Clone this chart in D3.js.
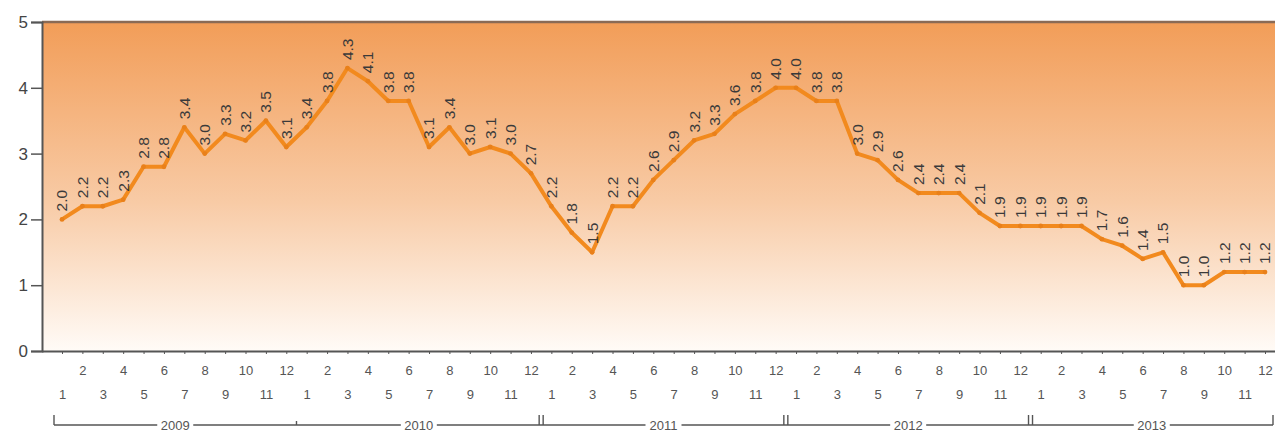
<!DOCTYPE html>
<html><head><meta charset="utf-8">
<script src="https://cdn.jsdelivr.net/npm/d3@7"></script>
<style>body{margin:0;background:#fff;} svg{display:block;font-family:"Liberation Sans",Arial,sans-serif;}</style>
</head><body>
<svg id="c" width="1275" height="432"></svg>
<script>
const years = [2009, 2010, 2011, 2012, 2013];
const months = [1,2,3,4,5,6,7,8,9,10,11,12];
const values = [
  2.0,2.2,2.2,2.3,2.8,2.8,3.4,3.0,3.3,3.2,3.5,3.1,
  3.4,3.8,4.3,4.1,3.8,3.8,3.1,3.4,3.0,3.1,3.0,2.7,
  2.2,1.8,1.5,2.2,2.2,2.6,2.9,3.2,3.3,3.6,3.8,4.0,
  4.0,3.8,3.8,3.0,2.9,2.6,2.4,2.4,2.4,2.1,1.9,1.9,
  1.9,1.9,1.9,1.7,1.6,1.4,1.5,1.0,1.0,1.2,1.2,1.2
];
const yTicks = [0,1,2,3,4,5];

const data = [];
years.forEach((yr, yi) => months.forEach((m, mi) => data.push({year: yr, month: m, i: yi*12+mi, v: values[yi*12+mi]})));

const svg = d3.select("#c");
const pL = 42, pR = 1275, pT = 22, pB = 351;
const x = d3.scaleLinear().domain([0, data.length-1]).range([62, 1265]);
const y = d3.scaleLinear().domain([0, 5]).range([pB, pT]);

const defs = svg.append("defs");
const g = defs.append("linearGradient").attr("id","bg").attr("x1",0).attr("y1",0).attr("x2",0).attr("y2",1);
g.append("stop").attr("offset","0%").attr("stop-color","#F29D58");
g.append("stop").attr("offset","55%").attr("stop-color","#F8CBA6");
g.append("stop").attr("offset","100%").attr("stop-color","#FFFBF7");

svg.append("rect").attr("x", pL).attr("y", pT).attr("width", pR-pL).attr("height", pB-pT).attr("fill","url(#bg)");
svg.append("line").attr("x1", pL).attr("x2", pR).attr("y1", pT).attr("y2", pT).attr("stroke","#8a6a55").attr("stroke-width",2.5);

// y axis
const ya = svg.append("g").attr("transform",`translate(${pL},0)`)
  .call(d3.axisLeft(y).tickValues(yTicks).tickSize(11).tickFormat(d3.format("d")));
ya.select(".domain").attr("stroke","#555").attr("stroke-width",2);
ya.selectAll(".tick line").attr("stroke","#555").attr("stroke-width",1.5);
ya.selectAll(".tick text").attr("font-size",17).attr("fill","#444").attr("x",-14).attr("font-family","Liberation Sans, Arial, sans-serif");

// x axis
const xa = svg.append("g").attr("transform",`translate(0,${pB})`)
  .call(d3.axisBottom(x).tickValues(data.map(d=>d.i)).tickSize(3).tickSizeOuter(0).tickFormat(i => data[i].month));
xa.select(".domain").attr("d", `M${pL},0.5H${pR}`).attr("stroke","#555").attr("stroke-width",2);
xa.selectAll(".tick line").attr("stroke","#555");
xa.selectAll(".tick text").attr("font-size",13).attr("fill","#555").attr("font-family","Liberation Sans, Arial, sans-serif")
  .attr("y", i => data[i].month % 2 === 0 ? 15 : 39);

// year brackets
const bY = 425;
const bounds = years.map((yr, yi) => {
  const a = yi === 0 ? x(0) - 8 : (x(yi*12-1) + x(yi*12)) / 2;
  const b = yi === years.length-1 ? x(data.length-1) + 8 : (x(yi*12+11) + x(yi*12+12)) / 2;
  return {yr, a, b};
});
const br = svg.append("g").attr("stroke","#555").attr("stroke-width",1.4);
br.append("line").attr("x1", bounds[0].a).attr("x2", bounds[bounds.length-1].b).attr("y1", bY).attr("y2", bY);
br.append("line").attr("x1", bounds[0].a).attr("x2", bounds[0].a).attr("y1", bY).attr("y2", bY-10);
br.append("line").attr("x1", bounds[bounds.length-1].b).attr("x2", bounds[bounds.length-1].b).attr("y1", bY).attr("y2", bY-10);
bounds.slice(1).forEach((d, k) => {
  if (k === 0) {
    br.append("line").attr("x1", d.a).attr("x2", d.a).attr("y1", bY).attr("y2", bY-4);
  } else {
    br.append("line").attr("x1", d.a-2).attr("x2", d.a-2).attr("y1", bY).attr("y2", bY-10);
    br.append("line").attr("x1", d.a+2).attr("x2", d.a+2).attr("y1", bY).attr("y2", bY-10);
  }
});
const yl = svg.append("g");
bounds.forEach(d => {
  const cx = (d.a + d.b) / 2;
  yl.append("rect").attr("x", cx-18).attr("y", bY-6).attr("width",36).attr("height",12).attr("fill","#fff");
  yl.append("text").attr("x", cx).attr("y", bY).attr("dy","0.35em").attr("text-anchor","middle")
    .attr("font-size",13).attr("fill","#555").text(d.yr);
});

// line
svg.append("path").datum(data)
  .attr("d", d3.line().x(d => x(d.i)).y(d => y(d.v)))
  .attr("fill","none").attr("stroke","#F28A1E").attr("stroke-width",4).attr("stroke-linejoin","round");
svg.append("g").selectAll("circle").data(data).join("circle")
  .attr("cx", d => x(d.i)).attr("cy", d => y(d.v)).attr("r", 2.4).attr("fill","#E9801A");

// value labels
svg.append("g").selectAll("text").data(data).join("text")
  .attr("transform", d => `translate(${x(d.i)},${y(d.v) - 8}) rotate(-90)`)
  .attr("dy","0.35em").attr("text-anchor","start")
  .attr("font-size",15.5).attr("fill","#3a3a3a")
  .text(d => d3.format(".1f")(d.v));
</script>
</body></html>
